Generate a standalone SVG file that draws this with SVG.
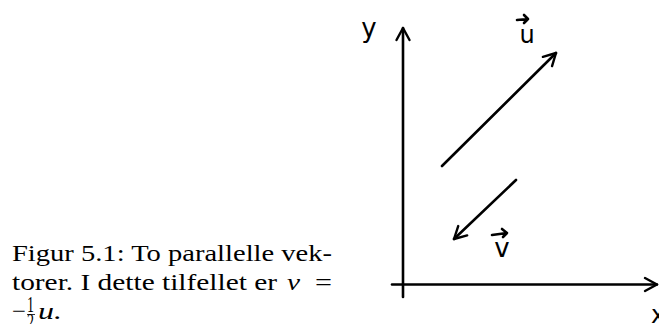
<svg xmlns="http://www.w3.org/2000/svg" width="659" height="324" viewBox="0 0 659 324">
<defs>
<style>
.ln{stroke:#000;stroke-width:2.6;fill:none;stroke-linecap:round;stroke-linejoin:round}
.hd{font-family:"DejaVu Sans","Liberation Sans",sans-serif;fill:#000}
.cap{font-family:"Liberation Serif","Times New Roman",serif;font-size:24px;fill:#000}
.it{font-style:italic}
</style>
<marker id="open" markerUnits="userSpaceOnUse" markerWidth="30" markerHeight="30" viewBox="-15 -15 30 30" refX="0" refY="0" orient="auto">
<path d="M -12 -6.5 L 0 0 L -12 6.5" stroke="#000" stroke-width="2.4" fill="none" stroke-linecap="round" stroke-linejoin="round"/>
</marker>
</defs>
<rect width="659" height="324" fill="#fff"/>
<g id="caption">
<text class="cap" x="12" y="261" textLength="320" lengthAdjust="spacingAndGlyphs">Figur 5.1:  To parallelle vek-</text>
<text class="cap" x="12" y="290" textLength="265" lengthAdjust="spacingAndGlyphs">torer.  I dette tilfellet er</text>
<text class="cap it" x="287" y="290" textLength="13" lengthAdjust="spacingAndGlyphs">v</text>
<text class="cap" x="315" y="290" textLength="17" lengthAdjust="spacingAndGlyphs">=</text>
<text class="cap" x="12" y="319" textLength="14" lengthAdjust="spacingAndGlyphs">−</text>
<text class="cap" x="27" y="312" font-size="14" textLength="7" lengthAdjust="spacingAndGlyphs">1</text>
<line x1="27" y1="314.5" x2="35" y2="314.5" stroke="#000" stroke-width="0.8"/>
<text class="cap" x="27" y="329" font-size="14" textLength="7" lengthAdjust="spacingAndGlyphs">2</text>
<text class="cap it" x="38" y="319" textLength="24" lengthAdjust="spacingAndGlyphs">u.</text>
</g>
<g id="axes">
<g id="y-axis"><path class="ln" d="M 403 297 L 403 28" marker-end="url(#open)"/></g>
<g id="x-axis"><path class="ln" d="M 392 284.5 L 657 284.5" marker-end="url(#open)"/></g>
</g>
<g id="connectors">
<g id="vector-u"><path class="ln" d="M 442 166 L 556 53" marker-end="url(#open)"/></g>
<g id="vector-v"><path class="ln" d="M 516 180 L 454 239" marker-end="url(#open)"/></g>
</g>
<g id="labels">
<g id="label-y"><text class="hd" x="369" y="37" font-size="26" text-anchor="middle">y</text></g>
<g id="label-u"><path class="ln" stroke-width="2" d="M 517 20 L 528 19 M 524 15 L 528 19 L 524 23"/><text class="hd" x="527" y="43" font-size="24" text-anchor="middle">u</text></g>
<g id="label-v"><path class="ln" stroke-width="2" d="M 492 235 L 507 233 M 502 229 L 507 233 L 503 237"/><text class="hd" x="502" y="257" font-size="26" text-anchor="middle">v</text></g>
<g id="label-x"><text class="hd" x="651" y="323" font-size="24">x</text></g>
</g>
</svg>
